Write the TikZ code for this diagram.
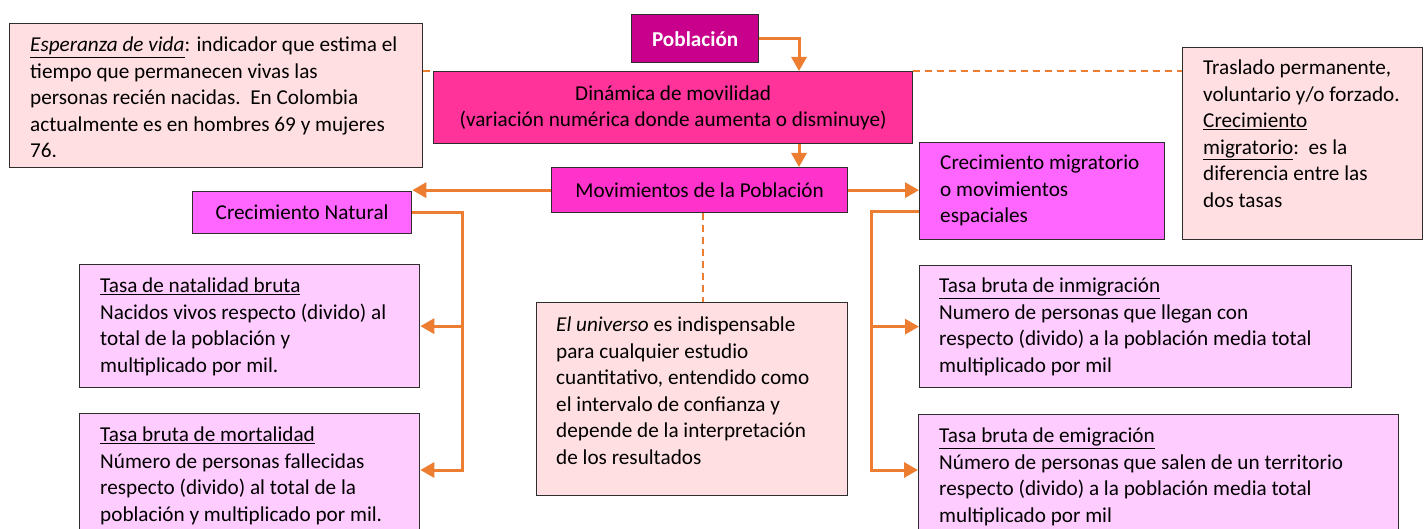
\documentclass[tikz,border=0pt]{standalone}
\usepackage{fontspec}
\setmainfont{Carlito}
\usetikzlibrary{arrows.meta}
\definecolor{naranja}{RGB}{237,125,49}
\definecolor{borde}{RGB}{45,45,45}
\definecolor{morado}{RGB}{200,0,140}
\definecolor{fucsia}{RGB}{255,51,153}
\definecolor{magentaA}{RGB}{255,51,204}
\definecolor{magentaB}{RGB}{255,102,255}
\definecolor{lila}{RGB}{255,204,255}
\definecolor{rosado}{RGB}{255,223,225}
\newcommand\cuerpo{\fontsize{21.2}{26.5}\selectfont}

\begin{document}
\begin{tikzpicture}[x=1pt,y=-1pt,
    caja/.style={draw=borde,line width=1.3pt,anchor=north west,inner sep=0pt,font=\cuerpo},
    texto/.style={anchor=north west,inner sep=0pt,align=left,font=\cuerpo,execute at begin node=\strut},
    flecha/.style={draw=naranja,line width=3pt,-{Triangle[length=14pt,width=15pt]}},
    guion/.style={draw=naranja,line width=1.8pt,dash pattern=on 7pt off 5pt}]
  \useasboundingbox (0,0) rectangle (1427,529);
  \node[caja,fill=rosado,minimum width=413pt,minimum height=144pt] (esp) at (9,23) {};
  \node[caja,fill=morado,minimum width=127pt,minimum height=48pt,text=white,font=\cuerpo\bfseries] (pob) at (631,14) {Población};
  \node[caja,fill=fucsia,minimum width=479pt,minimum height=72pt,align=center] (din) at (433,71) {Dinámica de movilidad\\(variación numérica donde aumenta o disminuye)};
  \node[caja,fill=magentaA,minimum width=296pt,minimum height=45pt] (mov) at (551,167) {Movimientos de la Población};
  \node[caja,fill=magentaB,minimum width=219pt,minimum height=42pt] (cnat) at (192,191) {Crecimiento Natural};
  \node[caja,fill=magentaB,minimum width=245pt,minimum height=97pt] (cmig) at (919,142) {};
  \node[caja,fill=rosado,minimum width=240pt,minimum height=192pt] (tras) at (1182,47) {};
  \node[caja,fill=lila,minimum width=340pt,minimum height=123pt] (nat) at (79,264) {};
  \node[caja,fill=lila,minimum width=340pt,minimum height=130pt] (mort) at (79,413) {};
  \node[caja,fill=rosado,minimum width=311pt,minimum height=193pt] (univ) at (536,302) {};
  \node[caja,fill=lila,minimum width=432pt,minimum height=122pt] (inm) at (919,265) {};
  \node[caja,fill=lila,minimum width=480pt,minimum height=130pt] (emig) at (918,414) {};

  \begin{scope}
    \clip (9,23) rectangle (422,157);
    \node[texto] (espT) at (30,37) {\underline{\textit{Esperanza de vida}}: indicador que estima el\\tiempo que permanecen vivas las\\personas recién nacidas.\ \ En Colombia\\actualmente es en hombres 69 y mujeres\\76.};
  \end{scope}
  \node[texto] (trasT) at (1203,60) {Traslado permanente,\\voluntario y/o forzado.\\\underline{Crecimiento}\\\underline{migratorio}:\ \ es la\\diferencia entre las\\dos tasas};
  \node[texto] (cmigT) at (940,155) {Crecimiento migratorio\\o movimientos\\espaciales};
  \node[texto] (natT) at (100,278) {\underline{Tasa de natalidad bruta}\\Nacidos vivos respecto (divido) al\\total de la población y\\multiplicado por mil.};
  \node[texto] (mortT) at (100,427) {\underline{Tasa bruta de mortalidad}\\Número de personas fallecidas\\respecto (divido) al total de la\\población y multiplicado por mil.};
  \node[texto] (univT) at (556,317) {\textit{El universo} es indispensable\\para cualquier estudio\\cuantitativo, entendido como\\el intervalo de confianza y\\depende de la interpretación\\de los resultados};
  \node[texto] (inmT) at (939,278) {\underline{Tasa bruta de inmigración}\\Numero de personas que llegan con\\respecto (divido) a la población media total\\multiplicado por mil};
  \node[texto] (emigT) at (939,428) {\underline{Tasa bruta de emigración}\\Número de personas que salen de un territorio\\respecto (divido) a la población media total\\multiplicado por mil};

  \coordinate (bifI) at (462,470);
  \coordinate (bifD) at (871,470);
  \draw[flecha] (pob.east) -| ([xshift=366pt]din.north west);
  \draw[flecha] ([xshift=366pt]din.south west) -- ([xshift=248pt]mov.north west);
  \draw[flecha] (mov.west) -- (mov.west -| cnat.east);
  \draw[flecha] (mov.east) -- (mov.east -| cmig.west);
  \draw[flecha] (cnat.east) -| (bifI) -- (bifI -| mort.east);
  \draw[flecha] (nat.east -| bifI) -- (nat.east);
  \draw[flecha] ([yshift=-20pt]cmig.west) -| (bifD) -- (bifD -| emig.west);
  \draw[flecha] (inm.west -| bifD) -- (inm.west);
  \draw[guion] (esp.east |- din.north) -- (din.north west);
  \draw[guion] (din.north east) -- (din.north east -| tras.west);
  \draw[guion] ([xshift=3pt]mov.south) -- ([xshift=3pt]mov.south |- univ.north);
\end{tikzpicture}
\end{document}
